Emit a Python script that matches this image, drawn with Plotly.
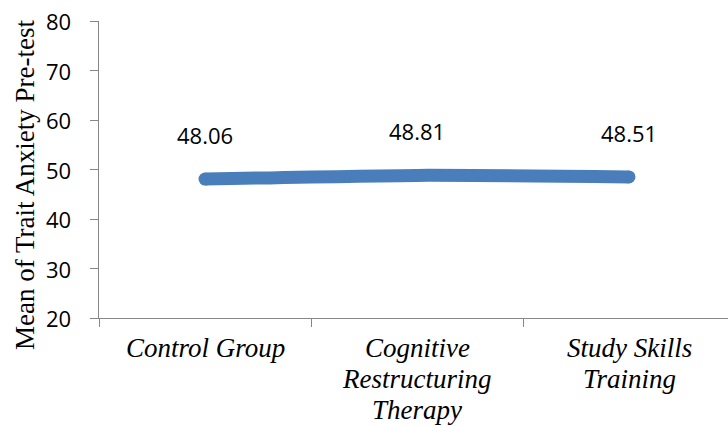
import plotly.graph_objects as go

# Group means for trait anxiety at pre-test
groups = ["Control Group", "Cognitive Restructuring Therapy", "Study Skills Training"]
group_lines = [["Control Group"], ["Cognitive", "Restructuring", "Therapy"], ["Study Skills", "Training"]]
means = [48.06, 48.81, 48.51]
label_text = ["48.06", "48.81", "48.51"]
y_ticks = [20, 30, 40, 50, 60, 70, 80]

LINE_BLUE = "#4A7EBB"
AXIS_GRAY = "#868686"
SERIF = "Liberation Serif, Times New Roman, serif"

fig = go.Figure()
fig.add_trace(go.Scatter(
    x=groups,
    y=means,
    mode="lines+markers",
    line=dict(color=LINE_BLUE, width=13, shape="spline", smoothing=0.6),
    marker=dict(color=LINE_BLUE, size=13, line=dict(width=0)),
    hoverinfo="x+y",
    showlegend=False,
))

# Value labels above each point
for g, m, t in zip(groups, means, label_text):
    fig.add_annotation(
        x=g, y=m, text=t, showarrow=False, yshift=44,
        font=dict(family="Open Sans", size=22, color="black"),
    )

# Category labels, one line per annotation for tighter line spacing
for g, lines in zip(groups, group_lines):
    for i, ln in enumerate(lines):
        fig.add_annotation(
            x=g, xref="x", y=0, yref="paper", yanchor="middle",
            text="<i>" + ln + "</i>", showarrow=False, yshift=-30 - 31 * i,
            font=dict(family=SERIF, size=27, color="black"),
        )

# Y tick labels, right-aligned a fixed distance left of the axis
for v in y_ticks:
    fig.add_annotation(
        xref="paper", yref="y", x=-0.0413, y=v,
        xanchor="right", yanchor="middle",
        text=str(v), showarrow=False,
        font=dict(family="Open Sans", size=22, color="black"),
    )

# Rotated axis title
fig.add_annotation(
    xref="paper", yref="paper", x=-0.1176, y=0.448,
    xanchor="center", yanchor="middle",
    text="Mean of Trait Anxiety Pre-test", textangle=-90, showarrow=False,
    font=dict(family=SERIF, size=27, color="black"),
)

fig.update_xaxes(
    type="category",
    range=[-0.5, 2.467],
    tickson="boundaries",
    ticks="outside", ticklen=8, tickcolor=AXIS_GRAY, tickwidth=1,
    showline=True, linecolor=AXIS_GRAY, linewidth=1,
    showgrid=False, zeroline=False,
    showticklabels=False,
)
fig.update_yaxes(
    range=[20, 80],
    tickvals=y_ticks,
    ticks="outside", ticklen=8, tickcolor=AXIS_GRAY, tickwidth=1,
    showline=True, linecolor=AXIS_GRAY, linewidth=1,
    showgrid=False, zeroline=False,
    showticklabels=False,
)

fig.update_layout(
    width=728, height=426,
    margin=dict(l=99, r=0, t=21, b=108),
    paper_bgcolor="white", plot_bgcolor="white",
)

fig.write_html("out.html")
